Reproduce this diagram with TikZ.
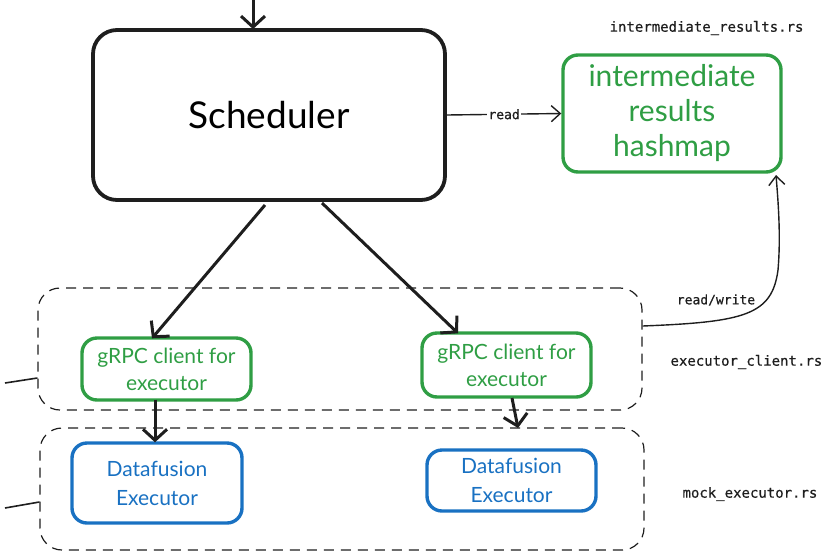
\documentclass[tikz,border=0pt]{standalone}
\usepackage{fontspec}
\usetikzlibrary{arrows.meta}
\newfontfamily\hand{Lato}
\newfontfamily\code[FakeBold=0.5]{DejaVu Sans Mono}
\definecolor{inkgreen}{HTML}{2F9E44}
\definecolor{inkblue}{HTML}{1971C2}
\definecolor{ink}{HTML}{1E1E1E}
\begin{document}
\begin{tikzpicture}[x=1pt,y=-1pt,
  box/.style={draw=ink,line width=3.8pt,rounded corners=24pt},
  gbox/.style={draw=inkgreen,line width=3.4pt,rounded corners=15pt,text=inkgreen,align=center},
  bbox/.style={draw=inkblue,line width=3.4pt,rounded corners=15pt,text=inkblue,align=center},
  group/.style={draw=ink,dashed,dash pattern=on 10pt off 7pt,line width=1.2pt,rounded corners=22pt},
  flow/.style={draw=ink,line width=3pt,-{Straight Barb[length=11pt,width=24pt,line width=3pt]}},
  thin/.style={draw=ink,line width=1.4pt,-{Straight Barb[length=9pt,width=16pt,line width=1.4pt]}},
  lbl/.style={font=\code\fontsize{14}{16}\selectfont,text=ink},
]
\useasboundingbox (0,0) rectangle (821,552);

% dashed module groups
\node[group,minimum width=604pt,minimum height=122pt] (clientgrp) at (340,349) {};
\node[group,minimum width=604pt,minimum height=122pt] (mockgrp) at (342,489) {};

% main boxes
\node[box,minimum width=352pt,minimum height=170pt,font=\hand\fontsize{37}{40}\selectfont] (sched) at (269,115) {Scheduler};
\node[gbox,minimum width=218pt,minimum height=117pt,font=\hand\fontsize{30}{35}\selectfont] (hash) at (672,113.5) {intermediate\\results\\hashmap};

\node[gbox,minimum width=169pt,minimum height=62pt,font=\hand\fontsize{21}{27}\selectfont] (cli1) at (166.5,369) {gRPC client for\\executor};
\node[gbox,minimum width=169pt,minimum height=64pt,font=\hand\fontsize{21}{27}\selectfont] (cli2) at (506.5,365) {gRPC client for\\executor};

\node[bbox,minimum width=170pt,minimum height=80pt,font=\hand\fontsize{21}{29}\selectfont] (exe1) at (157,483) {Datafusion\\Executor};
\node[bbox,minimum width=169pt,minimum height=61pt,font=\hand\fontsize{21}{29}\selectfont] (exe2) at (511.5,480.5) {Datafusion\\Executor};

% file labels
\node[lbl,anchor=east] (f1) at (807,28) {intermediate\_results.rs};
\node[lbl,anchor=west] (f2) at (667,362) {executor\_client.rs};
\node[lbl,anchor=west] (f3) at (679,494) {mock\_executor.rs};

% incoming arrow into the scheduler
\coordinate (top) at (253,0);
\draw[flow] (top) -- ([yshift=-1pt]sched.north -| top);

% scheduler reads the hashmap
\draw[thin] (sched.east) -- node[lbl,fill=white,inner sep=1pt,font=\code\fontsize{13}{15}\selectfont] {read} (hash.west);

% scheduler dispatches to the clients
\coordinate (s1) at (265,205);
\coordinate (s2) at (322,203);
\draw[flow] (s1) -- ([yshift=-2pt]cli1.north -| 152,0);
\draw[flow] (s2) -- ([yshift=-2pt]cli2.north -| 458,0);

% clients call executors
\draw[flow] ([yshift=2pt]cli1.south -| 155,0) -- ([yshift=-1pt]exe1.north -| 155,0);
\coordinate (c2b) at (512,398);
\coordinate (e2t) at (518,428);
\draw[flow] (c2b) -- (e2t);

% client group reads/writes the hashmap
\coordinate (rwend) at (776,175);
\draw[thin] (clientgrp.east |- 0,326) .. controls (745,322) and (772,315) .. (778,270)
  .. controls (781,235) and (778,200) .. (rwend);
\node[lbl,font=\code\fontsize{13}{15}\selectfont] (rw) at (716,300) {read/write};

% stubs entering the groups from the left
\coordinate (l1) at (5,383);
\coordinate (l2) at (5,508);
\draw[ink,line width=1.6pt] (l1) -- (clientgrp.west |- 0,378);
\draw[ink,line width=1.6pt] (l2) -- (mockgrp.west |- 0,502);
\end{tikzpicture}
\end{document}
